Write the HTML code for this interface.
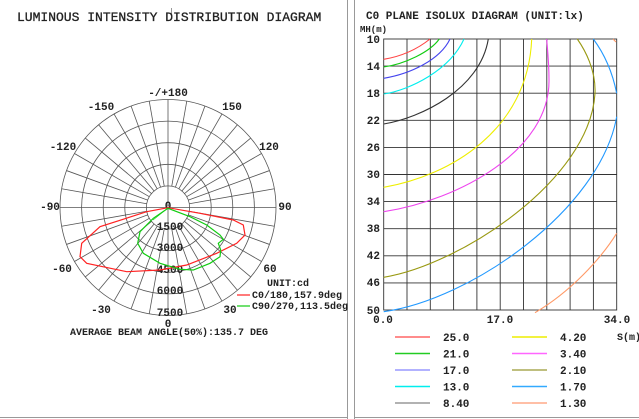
<!DOCTYPE html>
<html><head><meta charset="utf-8"><style>
html,body{margin:0;padding:0;background:#fff;}
svg{display:block;font-family:"Liberation Mono",monospace;font-weight:bold;}
</style></head><body>
<svg width="639" height="419" viewBox="0 0 639 419" xmlns="http://www.w3.org/2000/svg">
<rect width="639" height="419" fill="#fff"/>
<!-- panel borders -->
<line x1="347.5" y1="0" x2="347.5" y2="419" stroke="#999" stroke-width="1"/>
<line x1="354.5" y1="0" x2="354.5" y2="419" stroke="#999" stroke-width="1"/>
<line x1="0" y1="417.5" x2="347" y2="417.5" stroke="#999"/>
<line x1="354" y1="417.5" x2="639" y2="417.5" stroke="#999"/>
<line x1="171.5" y1="8" x2="171.5" y2="14" stroke="#999"/>
<text x="17" y="21" font-size="13" fill="#222" font-weight="normal" stroke="#222" stroke-width="0.3">LUMINOUS INTENSITY DISTRIBUTION DIAGRAM</text>

<!-- polar grid -->
<g transform="translate(168,207.5)" fill="none" stroke="#555" stroke-width="0.8">
<circle r="21.6"/><circle r="43.2"/><circle r="64.8"/><circle r="86.4"/><circle r="108"/>
<line x1="-108" y1="0" x2="108" y2="0"/>
<line x1="0" y1="-108" x2="0" y2="108"/>
<g id="sp">
<line x1="21.6" y1="0" x2="108" y2="0" transform="rotate(10)"/>
<line x1="21.6" y1="0" x2="108" y2="0" transform="rotate(20)"/>
<line x1="21.6" y1="0" x2="108" y2="0" transform="rotate(30)"/>
<line x1="21.6" y1="0" x2="108" y2="0" transform="rotate(40)"/>
<line x1="21.6" y1="0" x2="108" y2="0" transform="rotate(50)"/>
<line x1="21.6" y1="0" x2="108" y2="0" transform="rotate(60)"/>
<line x1="21.6" y1="0" x2="108" y2="0" transform="rotate(70)"/>
<line x1="21.6" y1="0" x2="108" y2="0" transform="rotate(80)"/>
<line x1="21.6" y1="0" x2="108" y2="0" transform="rotate(100)"/>
<line x1="21.6" y1="0" x2="108" y2="0" transform="rotate(110)"/>
<line x1="21.6" y1="0" x2="108" y2="0" transform="rotate(120)"/>
<line x1="21.6" y1="0" x2="108" y2="0" transform="rotate(130)"/>
<line x1="21.6" y1="0" x2="108" y2="0" transform="rotate(140)"/>
<line x1="21.6" y1="0" x2="108" y2="0" transform="rotate(150)"/>
<line x1="21.6" y1="0" x2="108" y2="0" transform="rotate(160)"/>
<line x1="21.6" y1="0" x2="108" y2="0" transform="rotate(170)"/>
</g>
<use href="#sp" transform="rotate(180)"/>
</g>
<!-- polar labels -->
<g font-size="11" fill="#222" text-anchor="middle">
<text x="168" y="96">-/+180</text>
<text x="232" y="110">150</text>
<text x="101" y="110">-150</text>
<text x="269" y="150">120</text>
<text x="63" y="150">-120</text>
<text x="285" y="210">90</text>
<text x="50" y="210">-90</text>
<text x="270" y="272">60</text>
<text x="62" y="272">-60</text>
<text x="230" y="313">30</text>
<text x="101" y="313">-30</text>
<text x="168" y="327">0</text>
<text x="168" y="209">0</text>
<text x="170" y="230">1500</text>
<text x="170" y="251">3000</text>
<text x="170" y="273">4500</text>
<text x="170" y="294">6000</text>
<text x="170" y="316">7500</text>
</g>
<!-- curves -->
<path d="M168,207.7 L146.7,211.7 L100,226.7 L81.7,243.3 L80,256.7 L86.7,263.3 L126.7,271.7 L160,270 L186.7,265 L216.7,253.3 L236.7,243.3 L245,235 L243.3,225 L233.3,220 L200,213.3 Z" fill="none" stroke="#f22" stroke-width="1.2"/>
<path d="M168,208.3 L153.3,218.3 L140,231.7 L137.7,243.3 L143.3,253.3 L160,263.3 L180,269.3 L193.3,270 L210,263.3 L220,256.7 L220.7,250 L218.3,243.3 L223.3,239.3 L220,235 L206.7,225 L190,216.7 Z" fill="none" stroke="#1c1" stroke-width="1.2"/>
<line x1="168" y1="208" x2="153" y2="220" stroke="#1c1" stroke-width="0.6"/>
<!-- legend left -->
<g font-size="10" fill="#222">
<text x="267" y="286">UNIT:cd</text>
<text x="252" y="298">C0/180,157.9deg</text>
<text x="252" y="309">C90/270,113.5deg</text>
</g>
<line x1="237" y1="295" x2="250" y2="295" stroke="#f22" stroke-width="1.2"/>
<line x1="237" y1="306" x2="250" y2="306" stroke="#1c1" stroke-width="1.2"/>
<text x="70" y="335" font-size="10" fill="#222">AVERAGE BEAM ANGLE(50%):135.7 DEG</text>

<!-- isolux -->
<text x="366" y="19" font-size="11" fill="#222">C0 PLANE ISOLUX DIAGRAM (UNIT:lx)</text>
<text x="360" y="32" font-size="9" fill="#222">MH(m)</text>
<g stroke="#333" stroke-width="0.9" fill="none">
<rect x="383.7" y="39" width="233" height="271"/>
<path d="M407,39V310M430.3,39V310M453.6,39V310M476.9,39V310M500.2,39V310M523.5,39V310M546.8,39V310M570.1,39V310M593.4,39V310"/>
<path d="M383.7,66.1H616.7M383.7,93.2H616.7M383.7,120.3H616.7M383.7,147.4H616.7M383.7,174.5H616.7M383.7,201.6H616.7M383.7,228.7H616.7M383.7,255.8H616.7M383.7,282.9H616.7"/>
</g>
<g font-size="11" fill="#222" text-anchor="end">
<text x="380" y="43">10</text><text x="380" y="70">14</text><text x="380" y="97">18</text>
<text x="380" y="124">22</text><text x="380" y="151">26</text><text x="380" y="178">30</text>
<text x="380" y="205">34</text><text x="380" y="232">38</text><text x="380" y="259">42</text>
<text x="380" y="286">46</text><text x="380" y="314">50</text>
</g>
<g font-size="11" fill="#222" text-anchor="middle">
<text x="383" y="323">0.0</text><text x="500" y="323">17.0</text><text x="617" y="323">34.0</text>
</g>
<text x="617" y="340" font-size="10" fill="#222">S(m)</text>
<g fill="none" stroke-width="1.1">
<path d="M383.7,59.3 Q410,55 430,39" stroke="#f44"/>
<path d="M383.7,67 C405,64 430,52 439.3,39" stroke="#1c1"/>
<path d="M383.7,78.3 C410,74 440,60 450,39" stroke="#44e"/>
<path d="M383.7,94 C410,90 450,70 464,39" stroke="#0ee"/>
<path d="M383.7,124 C420,118 480,90 488.3,39" stroke="#333"/>
<path d="M383.7,187.3 C450,176 528,130 531.7,39" stroke="#ee0"/>
<path d="M383.7,211.7 C460,200 550,150 549,80 C549,60 547,45 546.7,39" stroke="#e4e"/>
<path d="M383.7,277.3 C460,265 590,180 595,93.3 C596,70 585,50 577.3,39" stroke="#991"/>
<path d="M383.7,311.7 C470,300 600,210 616.7,116.7 M616.7,93.3 C612,70 603,52 593.3,39" stroke="#29f"/>
<path d="M535,312.7 C570,292 600,260 616.7,233.3" stroke="#f96"/>
<path d="M613,39 L616,42" stroke="#f96"/>
</g>
<!-- isolux legend -->
<g stroke-width="1.5">
<line x1="395" y1="337" x2="430" y2="337" stroke="#f66"/>
<line x1="395" y1="353.5" x2="430" y2="353.5" stroke="#2c2"/>
<line x1="395" y1="370" x2="430" y2="370" stroke="#99f"/>
<line x1="395" y1="386.5" x2="430" y2="386.5" stroke="#0ee"/>
<line x1="395" y1="403" x2="430" y2="403" stroke="#999"/>
<line x1="512" y1="337" x2="547" y2="337" stroke="#ee0"/>
<line x1="512" y1="353.5" x2="547" y2="353.5" stroke="#f6f"/>
<line x1="512" y1="370" x2="547" y2="370" stroke="#aa5"/>
<line x1="512" y1="386.5" x2="547" y2="386.5" stroke="#3af"/>
<line x1="512" y1="403" x2="547" y2="403" stroke="#fa8"/>
</g>
<g font-size="11" fill="#222">
<text x="443" y="341">25.0</text><text x="443" y="357.5">21.0</text><text x="443" y="374">17.0</text>
<text x="443" y="390.5">13.0</text><text x="443" y="407">8.40</text>
<text x="560" y="341">4.20</text><text x="560" y="357.5">3.40</text><text x="560" y="374">2.10</text>
<text x="560" y="390.5">1.70</text><text x="560" y="407">1.30</text>
</g>
</svg>
</body></html>
